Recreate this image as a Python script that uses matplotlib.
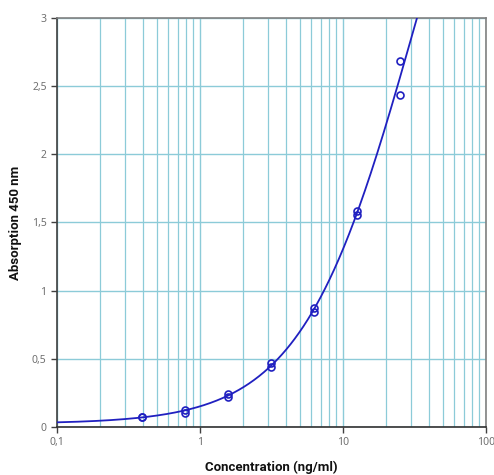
import numpy as np
import matplotlib
matplotlib.use("Agg")
import matplotlib.pyplot as plt
from matplotlib.ticker import FixedLocator, LogLocator, NullFormatter

# Standard concentrations (ng/ml), duplicates
conc = [0.39, 0.39, 0.78, 0.78, 1.56, 1.56, 3.125, 3.125, 6.25, 6.25, 12.5, 12.5, 25, 25]
absorb = [0.070, 0.075, 0.125, 0.105, 0.240, 0.220, 0.467, 0.440, 0.870, 0.840, 1.587, 1.555, 2.685, 2.436]

x_ticks = [0.1, 1, 10, 100]
x_tick_labels = ["0,1", "1", "10", "100"]
y_ticks = [0, 0.5, 1, 1.5, 2, 2.5, 3]
y_tick_labels = ["0", "0,5", "1", "1,5", "2", "2,5", "3"]

# 4-parameter logistic fit (grid over B, C; linear least squares for A, D)
xd = np.array(conc)
yd = np.array(absorb)
best = None
for B in np.linspace(0.8, 1.6, 81):
    for C in np.logspace(0.5, 2.5, 201):
        f = 1.0 / (1.0 + (xd / C) ** B)
        M = np.column_stack([f, 1 - f])
        coef, *_ = np.linalg.lstsq(M, yd, rcond=None)
        sse = np.sum((M @ coef - yd) ** 2)
        if best is None or sse < best[0]:
            best = (sse, B, C, coef[0], coef[1])
_, B, C, A, D = best
xc = np.logspace(-1, 2, 600)
yc = D + (A - D) / (1 + (xc / C) ** B)

plt.rcParams['font.family'] = ['Noto Sans', 'DejaVu Sans']
fig = plt.figure(figsize=(4.94, 4.75), dpi=100)
ax = fig.add_axes([0.1154, 0.1011, 0.8684, 0.861])
ax.set_xscale('log')
ax.set_xlim(0.1, 100)
ax.set_ylim(0, 3)

gc = '#8ccbd8'
ax.xaxis.set_major_locator(FixedLocator(x_ticks))
ax.xaxis.set_minor_locator(LogLocator(base=10, subs=np.arange(2, 10)))
ax.xaxis.set_minor_formatter(NullFormatter())
ax.set_xticklabels(x_tick_labels)
ax.set_yticks(y_ticks)
ax.set_yticklabels(y_tick_labels)
ax.grid(True, which='major', axis='both', color=gc, lw=1.0)
ax.grid(True, which='minor', axis='x', color=gc, lw=0.9)
ax.set_axisbelow(True)

ax.plot(xc, yc, color='#2020c0', lw=1.3, clip_on=True, zorder=3)
ax.plot(conc, absorb, 'o', ms=5, mfc='none', mec='#2020c0', mew=1.2, zorder=4)

for s in ax.spines.values():
    s.set_color('#808080')
    s.set_linewidth(1.2)
ax.spines['bottom'].set_color('#303030')
ax.spines['left'].set_color('#404040')
ax.tick_params(axis='both', which='major', colors='#404040', labelcolor='#707070', labelsize=7.5, length=4, width=1)
ax.tick_params(axis='x', which='minor', length=0)

lab_font = dict(family=['Roboto', 'DejaVu Sans'], fontsize=9.5, fontweight='bold', color='#111111')
ax.set_xlabel('Concentration (ng/ml)', labelpad=9, **lab_font)
ax.set_ylabel('Absorption 450 nm', labelpad=7, **lab_font)

fig.savefig('out.png', dpi=100)
